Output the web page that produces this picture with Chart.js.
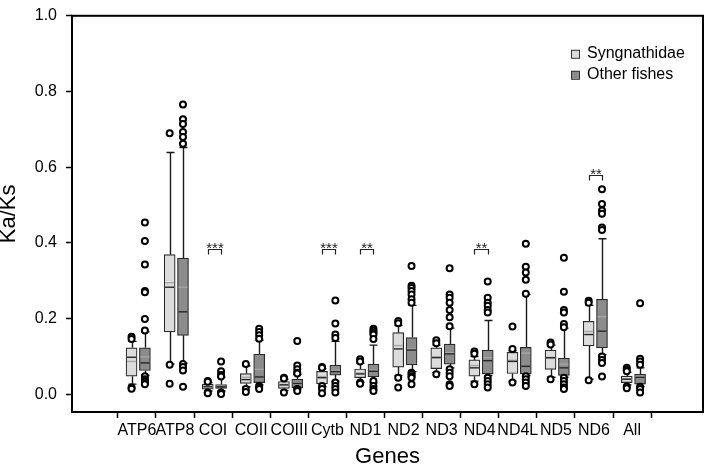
<!DOCTYPE html>
<html>
<head>
<meta charset="utf-8">
<script src="https://cdn.jsdelivr.net/npm/chart.js@4.4.0/dist/chart.umd.min.js"></script>
<style>
  html, body { margin: 0; padding: 0; background: #fff; }
</style>
</head>
<body>
<canvas id="chart" width="709" height="466"></canvas>
<script>
// Ka/Ks per mitochondrial gene, Syngnathidae vs other fishes
const genes = ['ATP6', 'ATP8', 'COI', 'COII', 'COIII', 'Cytb', 'ND1', 'ND2', 'ND3', 'ND4', 'ND4L', 'ND5', 'ND6', 'All'];
const yTicks = [0, 0.2, 0.4, 0.6, 0.8, 1.0];

// Syngnathidae
const synLow    = [0.027, 0.080, 0.009, 0.020, 0.010, 0.020, 0.032, 0.050, 0.058, 0.035, 0.035, 0.045, 0.040, 0.025];
const synQ1     = [0.048, 0.165, 0.014, 0.029, 0.016, 0.028, 0.044, 0.072, 0.068, 0.048, 0.055, 0.066, 0.128, 0.031];
const synMedian = [0.098, 0.283, 0.020, 0.039, 0.025, 0.044, 0.054, 0.120, 0.097, 0.070, 0.087, 0.097, 0.158, 0.040];
const synMean   = [0.087, 0.295, 0.022, 0.045, 0.026, 0.047, 0.056, 0.129, 0.099, 0.076, 0.090, 0.095, 0.166, 0.041];
const synQ3     = [0.123, 0.369, 0.027, 0.055, 0.034, 0.061, 0.067, 0.163, 0.123, 0.091, 0.111, 0.117, 0.193, 0.048];
const synHigh   = [0.140, 0.639, 0.031, 0.075, 0.040, 0.068, 0.082, 0.182, 0.130, 0.100, 0.115, 0.130, 0.235, 0.058];
const synOutliers = [
  [0.152, 0.146, 0.018, 0.015],
  [0.690, 0.078, 0.028],
  [0.035, 0.033, 0.005, 0.003],
  [0.080, 0.014, 0.006],
  [0.044, 0.042, 0.005],
  [0.072, 0.070, 0.022, 0.014, 0.003],
  [0.093, 0.087, 0.031, 0.028],
  [0.194, 0.188, 0.044, 0.018],
  [0.143, 0.135, 0.053],
  [0.113, 0.107, 0.027],
  [0.179, 0.120, 0.031],
  [0.137, 0.132, 0.040],
  [0.247, 0.242, 0.037],
  [0.070, 0.065, 0.061, 0.021, 0.016]
];

// Other fishes
const othLow    = [0.050, 0.082, 0.009, 0.025, 0.015, 0.035, 0.030, 0.060, 0.070, 0.050, 0.050, 0.045, 0.105, 0.020];
const othQ1     = [0.063, 0.156, 0.016, 0.031, 0.018, 0.051, 0.046, 0.078, 0.080, 0.054, 0.054, 0.050, 0.123, 0.027];
const othMedian = [0.083, 0.218, 0.020, 0.046, 0.029, 0.060, 0.061, 0.117, 0.107, 0.089, 0.074, 0.070, 0.167, 0.045];
const othMean   = [0.099, 0.283, 0.022, 0.066, 0.031, 0.064, 0.064, 0.120, 0.110, 0.097, 0.109, 0.080, 0.205, 0.048];
const othQ3     = [0.123, 0.360, 0.026, 0.106, 0.040, 0.077, 0.080, 0.150, 0.133, 0.117, 0.124, 0.096, 0.251, 0.053];
const othHigh   = [0.165, 0.652, 0.045, 0.143, 0.052, 0.140, 0.130, 0.235, 0.175, 0.195, 0.264, 0.175, 0.411, 0.070];
const othOutliers = [
  [0.454, 0.405, 0.343, 0.273, 0.270, 0.199, 0.169, 0.048, 0.040, 0.035, 0.030, 0.027],
  [0.766, 0.727, 0.714, 0.693, 0.680, 0.662, 0.080, 0.072, 0.063, 0.020],
  [0.087, 0.061, 0.051, 0.047, 0.005, 0.001],
  [0.173, 0.165, 0.156, 0.147, 0.022, 0.018, 0.014],
  [0.141, 0.076, 0.066, 0.057, 0.055, 0.014, 0.009],
  [0.248, 0.187, 0.158, 0.149, 0.031, 0.022, 0.014, 0.005],
  [0.173, 0.168, 0.163, 0.158, 0.146, 0.035, 0.022, 0.014, 0.009],
  [0.339, 0.287, 0.281, 0.273, 0.264, 0.251, 0.242, 0.057, 0.053, 0.048, 0.044, 0.027],
  [0.333, 0.264, 0.255, 0.242, 0.223, 0.204, 0.180, 0.066, 0.057, 0.048, 0.027, 0.022],
  [0.298, 0.255, 0.242, 0.234, 0.223, 0.216, 0.044, 0.035, 0.027, 0.018],
  [0.398, 0.337, 0.322, 0.303, 0.266, 0.048, 0.040, 0.031, 0.022],
  [0.361, 0.271, 0.223, 0.216, 0.186, 0.177, 0.044, 0.035, 0.027, 0.018, 0.014],
  [0.542, 0.503, 0.486, 0.477, 0.441, 0.434, 0.100, 0.091, 0.083, 0.047],
  [0.241, 0.094, 0.087, 0.078, 0.020, 0.014, 0.005]
];

// significance marks
const sigGenes = ['COI', 'Cytb', 'ND1', 'ND4', 'ND6'];
const sigStars = ['***', '***', '**', '**', '**'];
const sigLevel = [0.385, 0.385, 0.385, 0.385, 0.579];

const FONT = "'Liberation Sans', Arial, sans-serif";
const groups = [
  { label: 'Syngnathidae', fill: '#dcdcdc', offset: -0.14,
    low: synLow, q1: synQ1, median: synMedian, mean: synMean, q3: synQ3, high: synHigh, outliers: synOutliers },
  { label: 'Other fishes', fill: '#8c8c8c', offset: 0.21,
    low: othLow, q1: othQ1, median: othMedian, mean: othMean, q3: othQ3, high: othHigh, outliers: othOutliers }
];
const BOX_W = 11;

function outlierPoints(g) {
  const pts = [];
  g.outliers.forEach((list, i) => list.forEach(v => pts.push({ x: i + 1 + g.offset, y: v })));
  return pts;
}

const boxExtras = {
  id: 'boxExtras',
  beforeDatasetsDraw(chart) {
    const { ctx, scales: { x, y } } = chart;
    ctx.save();
    ctx.strokeStyle = '#1a1a1a';
    ctx.lineWidth = 1.4;
    groups.forEach(g => {
      genes.forEach((_, i) => {
        const px = Math.round(x.getPixelForValue(i + 1 + g.offset)) + 0.5;
        const segs = [[g.q3[i], g.high[i]], [g.q1[i], g.low[i]]];
        segs.forEach(([from, to]) => {
          const y0 = y.getPixelForValue(from), y1 = y.getPixelForValue(to);
          ctx.beginPath();
          ctx.moveTo(px, y0); ctx.lineTo(px, y1);
          ctx.moveTo(px - 4, y1); ctx.lineTo(px + 4, y1);
          ctx.stroke();
        });
      });
    });
    ctx.restore();
  },
  afterDatasetDraw(chart, args) {
    const g = groups[args.index - 2];
    if (!g) return;
    const { ctx, scales: { x, y } } = chart;
    ctx.save();
    ctx.lineWidth = 1.4;
    genes.forEach((_, i) => {
      const px = x.getPixelForValue(i + 1 + g.offset);
      [[g.mean[i], '#a6a6a6'], [g.median[i], '#262626']].forEach(([v, col]) => {
        const py = y.getPixelForValue(v);
        ctx.strokeStyle = col;
        ctx.beginPath();
        ctx.moveTo(px - BOX_W / 2 + 1, py); ctx.lineTo(px + BOX_W / 2 - 1, py);
        ctx.stroke();
      });
    });
    ctx.restore();
  },
  afterDraw(chart) {
    const { ctx, chartArea: a, scales: { x, y } } = chart;
    ctx.save();
    // frame
    ctx.strokeStyle = '#000';
    ctx.lineWidth = 2;
    ctx.strokeRect(a.left, a.top, a.right - a.left, a.bottom - a.top);

    // significance brackets
    ctx.lineWidth = 1.2;
    ctx.strokeStyle = '#222';
    ctx.fillStyle = '#222';
    ctx.font = '15px ' + FONT;
    ctx.textAlign = 'center';
    ctx.textBaseline = 'alphabetic';
    sigGenes.forEach((gene, k) => {
      const i = genes.indexOf(gene) + 1;
      const x0 = Math.round(x.getPixelForValue(i + groups[0].offset)) + 0.5;
      const x1 = Math.round(x.getPixelForValue(i + groups[1].offset)) + 0.5;
      const by = Math.round(y.getPixelForValue(sigLevel[k])) + 0.5;
      ctx.beginPath();
      ctx.moveTo(x0, by + 5); ctx.lineTo(x0, by); ctx.lineTo(x1, by); ctx.lineTo(x1, by + 5);
      ctx.stroke();
      ctx.fillText(sigStars[k], (x0 + x1) / 2, by + 3);
    });

    // legend
    const lx = a.right - 132, ly = a.top + 38;
    ctx.font = '16px ' + FONT;
    ctx.textAlign = 'left';
    ctx.textBaseline = 'middle';
    ctx.lineWidth = 1;
    groups.forEach((g, k) => {
      const cy = ly + k * 21;
      ctx.fillStyle = g.fill;
      ctx.fillRect(lx, cy - 4, 8, 8);
      ctx.strokeStyle = '#333';
      ctx.strokeRect(lx + 0.5, cy - 3.5, 8, 8);
      ctx.fillStyle = '#000';
      ctx.fillText(g.label, lx + 16, cy);
    });
    ctx.restore();
  }
};

const datasets = [
  ...groups.map(g => ({
    type: 'scatter',
    label: g.label + ' outliers',
    data: outlierPoints(g),
    pointRadius: 3,
    pointBorderWidth: 2,
    pointBackgroundColor: '#fff',
    pointBorderColor: '#000'
  })),
  ...groups.map(g => ({
    type: 'bar',
    label: g.label,
    data: genes.map((_, i) => ({ x: i + 1 + g.offset, y: [g.q1[i], g.q3[i]] })),
    backgroundColor: g.fill,
    borderColor: '#2a2a2a',
    borderWidth: 1.2,
    borderSkipped: false,
    barThickness: BOX_W,
    grouped: false
  }))
];

new Chart(document.getElementById('chart'), {
  type: 'bar',
  data: { datasets },
  options: {
    responsive: false,
    animation: false,
    events: [],
    layout: { padding: { top: 7, right: 4, left: 0, bottom: 0 } },
    plugins: { legend: { display: false }, tooltip: { enabled: false } },
    scales: {
      x: {
        type: 'linear',
        min: -0.112,
        max: 15.27,
        afterBuildTicks: s => { s.ticks = genes.map((_, i) => ({ value: i + 1 })); },
        afterFit: s => { s.height = 54; },
        ticks: {
          callback: v => genes[v - 1],
          autoSkip: false, maxRotation: 0, padding: 3,
          color: '#000', font: { family: FONT, size: 16 }
        },
        grid: { drawOnChartArea: false, tickLength: 6, color: '#000', tickWidth: 1.5 },
        border: { display: false },
        title: {
          display: true, text: 'Genes', color: '#000',
          font: { family: FONT, size: 22, lineHeight: 0.8 }, padding: 0
        }
      },
      y: {
        min: -0.0466,
        max: 1.0,
        afterBuildTicks: s => { s.ticks = yTicks.map(v => ({ value: v })); },
        afterFit: s => { s.width = 72; },
        ticks: {
          callback: v => v.toFixed(1),
          padding: 9, color: '#000', font: { family: FONT, size: 16, lineHeight: 0.85 }
        },
        grid: { drawOnChartArea: false, tickLength: 6, color: '#000', tickWidth: 1.5 },
        border: { display: false },
        title: {
          display: true, text: 'Ka/Ks', color: '#000',
          font: { family: FONT, size: 22, lineHeight: 0.83 }, padding: 0
        }
      }
    }
  },
  plugins: [boxExtras]
});
</script>
</body>
</html>
